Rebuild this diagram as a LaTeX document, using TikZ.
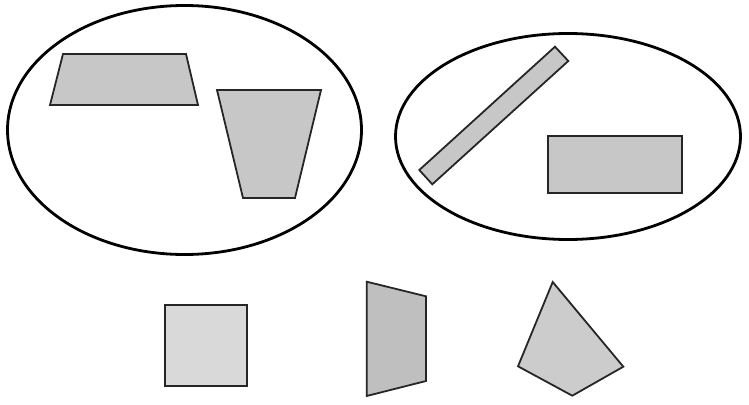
\documentclass[tikz,border=0pt]{standalone}
\begin{document}
\begin{tikzpicture}[x=1pt,y=-1pt,
  outline/.style={draw=black,line width=2.8pt},
  piece/.style={draw=black!85,line width=1.8pt,line join=miter,fill=#1},
  piece/.default={black!22}]
\useasboundingbox (0,0) rectangle (749,404);
% left group
\draw[outline] (184.5,130) ellipse [x radius=177,y radius=124.5];
\draw[piece] (63,54) -- (186,54) -- (198,105) -- (50,105) -- cycle;
\draw[piece] (217,90) -- (321,90) -- (295,198) -- (243,198) -- cycle;
% right group
\draw[outline] (568,136.5) ellipse [x radius=172.5,y radius=103];
\draw[piece] (555,46.7) -- (568.3,61) -- (432.3,184.3) -- (419.3,170) -- cycle;
\draw[piece] (548.3,135.7) rectangle (682.3,192.7);
% bottom pieces
\draw[piece=black!15] (165,304.7) rectangle (246.7,386);
\draw[piece=black!25] (366.7,281.7) -- (426,296.3) -- (426,381) -- (366.7,396) -- cycle;
\draw[piece=black!20] (552.7,282) -- (623.3,366.7) -- (572.3,395.7) -- (518,366.3) -- cycle;
\end{tikzpicture}
\end{document}
